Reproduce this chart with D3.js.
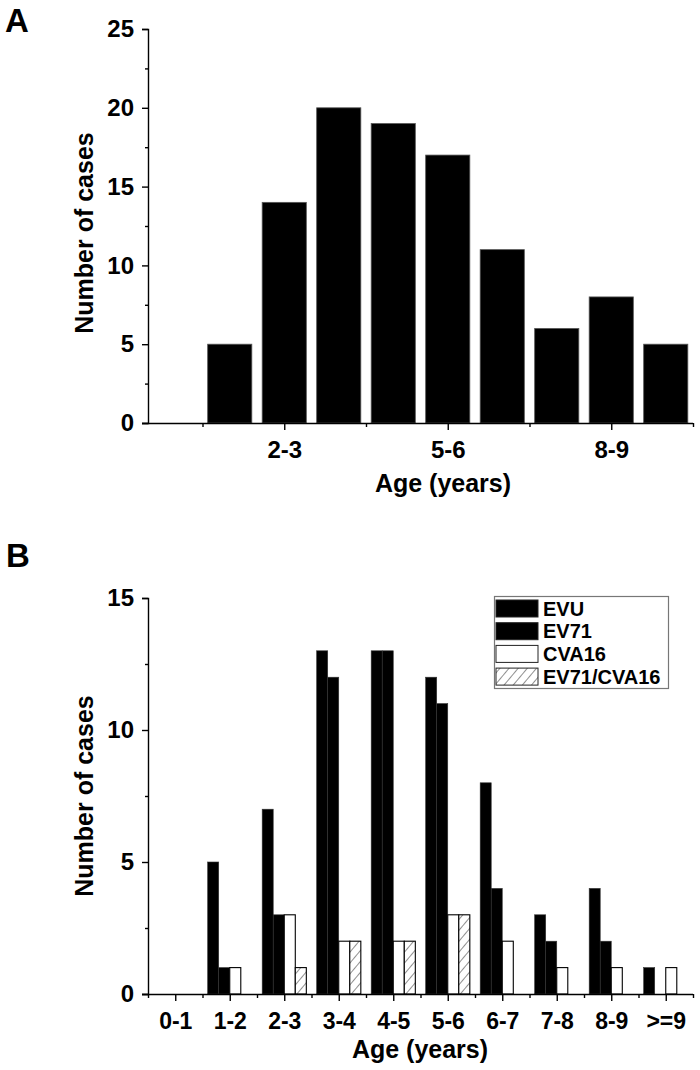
<!DOCTYPE html>
<html><head><meta charset="utf-8">
<script src="https://cdn.jsdelivr.net/npm/d3@7"></script>
<style>
html,body{margin:0;padding:0;background:#fff;}
svg text{font-family:"Liberation Sans",Arial,sans-serif;font-weight:bold;fill:#000;}
</style></head>
<body><svg id="c" width="700" height="1070"></svg>
<script>
// ---- data ----
const ageGroups = ["0-1","1-2","2-3","3-4","4-5","5-6","6-7","7-8","8-9",">=9"];
const totalCases = [0,5,14,20,19,17,11,6,8,5];
const seriesNames = ["EVU","EV71","CVA16","EV71/CVA16"];
const evu   = [0,5,7,13,13,12,8,3,4,1];
const ev71  = [0,1,3,12,13,11,4,2,2,0];
const cva16 = [0,1,3,2,2,3,2,1,1,1];
const coinf = [0,0,1,2,2,3,0,0,0,0];
const yTicksA = [0,5,10,15,20,25];
const yTicksB = [0,5,10,15];
const xLabelsA = ["2-3","5-6","8-9"];

const svg = d3.select("#c");
const defs = svg.append("defs");
const pat = defs.append("pattern").attr("id","hatch").attr("patternUnits","userSpaceOnUse")
  .attr("width",7).attr("height",7).attr("patternTransform","rotate(40)");
pat.append("rect").attr("width",7).attr("height",7).attr("fill","#fff");
pat.append("line").attr("x1",0).attr("y1",0).attr("x2",0).attr("y2",7).attr("stroke","#333").attr("stroke-width",1.1);

const X0 = 148, X1 = 693;
const xl = d3.scaleLinear().domain([0,10]).range([X0,X1]);
const xb = d3.scaleBand().domain(ageGroups).range([X0,X1]).paddingInner(0.19).paddingOuter(0.095);
const sub = d3.scaleBand().domain(seriesNames).range([0,xb.bandwidth()]);
const fills = {"EVU":"#000","EV71":"#000","CVA16":"#fff","EV71/CVA16":"url(#hatch)"};
const seriesVals = {"EVU":evu,"EV71":ev71,"CVA16":cva16,"EV71/CVA16":coinf};

function styleAxis(g){
  g.selectAll("path.domain").attr("stroke","#000").attr("stroke-width",1.4);
  g.selectAll(".tick line").attr("stroke","#000").attr("stroke-width",1.4);
  g.selectAll("text").attr("font-family",null).attr("font-size",null);
}

// ---------------- Panel A ----------------
const yA = d3.scaleLinear().domain([0,25]).range([423,29]);
const gA = svg.append("g");
gA.selectAll("rect.bar").data(ageGroups).enter().append("rect")
  .attr("x",d=>xb(d)).attr("width",xb.bandwidth())
  .attr("y",(d,i)=>yA(totalCases[i])).attr("height",(d,i)=>yA(0)-yA(totalCases[i]))
  .attr("fill","#000").attr("stroke","#555").attr("stroke-width",0.8)
  .style("display",(d,i)=>totalCases[i]>0?null:"none");

// y axis A
const yaA = gA.append("g").attr("transform",`translate(${X0},0)`)
  .call(d3.axisLeft(yA).tickValues(yTicksA).tickSize(6).tickPadding(8));
styleAxis(yaA); yaA.selectAll("text").style("font-size","24px");
const yaAm = gA.append("g").attr("transform",`translate(${X0},0)`)
  .call(d3.axisLeft(yA).tickValues([2.5,7.5,12.5,17.5,22.5]).tickSize(3).tickFormat(""));
styleAxis(yaAm); yaAm.select("path.domain").remove();
// x axis A
const xaA = gA.append("g").attr("transform",`translate(0,${yA(0)})`)
  .call(d3.axisBottom(xl).tickValues([2.5,5.5,8.5]).tickSize(7).tickPadding(11)
    .tickFormat((d,i)=>xLabelsA[i]).tickSizeOuter(0));
styleAxis(xaA); xaA.selectAll("text").style("font-size","24px");
xaA.select("path.domain").attr("d",`M${X0-6},0.5H${X1}`);
const xaAm = gA.append("g").attr("transform",`translate(0,${yA(0)})`)
  .call(d3.axisBottom(xl).tickValues([1,4,7,10]).tickSize(4).tickFormat(""));
styleAxis(xaAm); xaAm.select("path.domain").remove();

gA.append("text").attr("x",443).attr("y",492).attr("text-anchor","middle").style("font-size","25px").text("Age (years)");
gA.append("text").attr("transform","translate(93,233) rotate(-90)").attr("text-anchor","middle").style("font-size","25px").text("Number of cases");
gA.append("text").attr("x",5).attr("y",32).style("font-size","33px").text("A");

// ---------------- Panel B ----------------
const yB = d3.scaleLinear().domain([0,15]).range([994,598]);
const gB = svg.append("g");
const groups = gB.selectAll("g.grp").data(ageGroups).enter().append("g")
  .attr("transform",d=>`translate(${xb(d)},0)`);
groups.selectAll("rect").data((d,i)=>seriesNames.map(s=>({s, v:seriesVals[s][i]})))
  .enter().append("rect")
  .filter(d=>d.v>0)
  .attr("x",d=>sub(d.s)).attr("width",sub.bandwidth())
  .attr("y",d=>yB(d.v)).attr("height",d=>yB(0)-yB(d.v))
  .attr("fill",d=>fills[d.s])
  .attr("stroke",d=>(d.s==="EVU"||d.s==="EV71")?"#333":"#000")
  .attr("stroke-width",d=>(d.s==="EVU"||d.s==="EV71")?0.6:1.1);

const yaB = gB.append("g").attr("transform",`translate(${X0},0)`)
  .call(d3.axisLeft(yB).tickValues(yTicksB).tickSize(6).tickPadding(8));
styleAxis(yaB); yaB.selectAll("text").style("font-size","24px");
const yaBm = gB.append("g").attr("transform",`translate(${X0},0)`)
  .call(d3.axisLeft(yB).tickValues([2.5,7.5,12.5]).tickSize(3).tickFormat(""));
styleAxis(yaBm); yaBm.select("path.domain").remove();

const xaB = gB.append("g").attr("transform",`translate(0,${yB(0)})`)
  .call(d3.axisBottom(xl).tickValues(ageGroups.map((d,i)=>i+0.5)).tickSize(7).tickPadding(12)
    .tickFormat((d,i)=>ageGroups[i]).tickSizeOuter(0));
styleAxis(xaB); xaB.selectAll("text").style("font-size","23px");
xaB.select("path.domain").attr("d",`M${X0-6},0.5H${X1}`);
const xaBm = gB.append("g").attr("transform",`translate(0,${yB(0)})`)
  .call(d3.axisBottom(xl).tickValues(d3.range(0,11)).tickSize(4).tickFormat(""));
styleAxis(xaBm); xaBm.select("path.domain").remove();

gB.append("text").attr("x",420).attr("y",1058).attr("text-anchor","middle").style("font-size","25px").text("Age (years)");
gB.append("text").attr("transform","translate(93,796) rotate(-90)").attr("text-anchor","middle").style("font-size","25px").text("Number of cases");
gB.append("text").attr("x",6).attr("y",567).style("font-size","33px").text("B");

// legend
const lg = gB.append("g");
lg.append("rect").attr("x",494.5).attr("y",596.5).attr("width",174).attr("height",92)
  .attr("fill","#fff").attr("stroke","#777").attr("stroke-width",1.2);
seriesNames.forEach((s,i)=>{
  const yy = 600 + i*22.7;
  lg.append("rect").attr("x",496).attr("y",yy).attr("width",42).attr("height",17)
    .attr("fill",fills[s]).attr("stroke","#222").attr("stroke-width",1);
  lg.append("text").attr("x",543).attr("y",yy+15.5).style("font-size","20px").text(s);
});
</script></body></html>
